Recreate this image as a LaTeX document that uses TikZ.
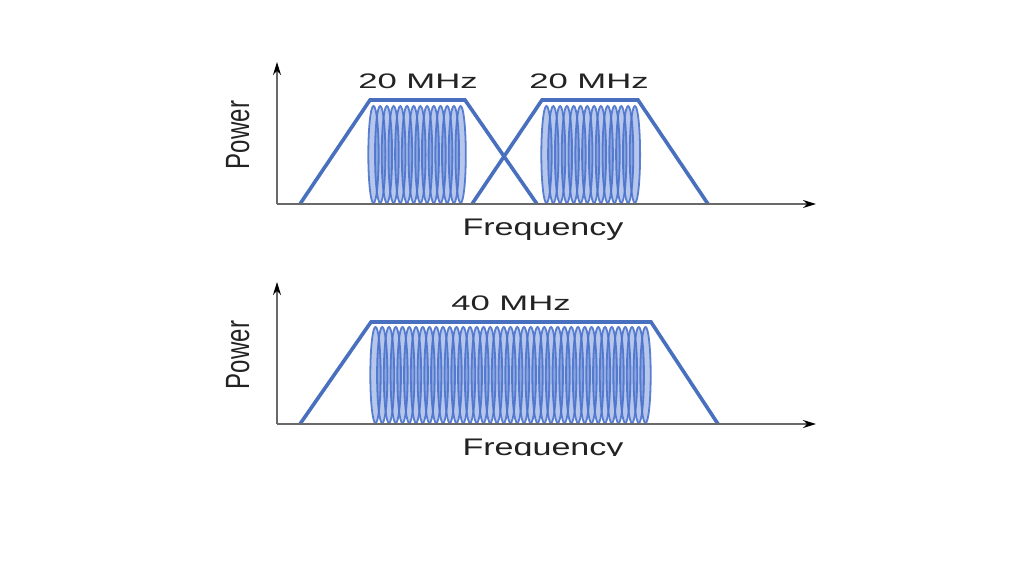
\documentclass[tikz,border=0pt]{standalone}
\usepackage{fontspec}
\setmainfont{Liberation Sans}
\usetikzlibrary{arrows.meta}
\definecolor{trap}{RGB}{72,112,190}
\definecolor{wave}{RGB}{75,115,205}
\definecolor{axisc}{RGB}{105,105,105}
\definecolor{txt}{RGB}{35,35,35}
\tikzset{
  axisline/.style={draw=axisc, line width=1.6pt, -{Stealth[length=13pt,width=8pt,color=black]}},
  trapline/.style={draw=trap, line width=3.6pt, line join=miter},
  lobe/.style={draw=wave, draw opacity=0.9, line width=1.8pt, fill=wave, fill opacity=0.4},
  mhz/.style={text=txt, font=\fontsize{21}{21}\selectfont, xscale=1.65, inner sep=0pt},
  axlab/.style={text=txt, font=\fontsize{24}{24}\selectfont, xscale=1.42, inner sep=0pt},
  powlab/.style={text=txt, font=\fontsize{24}{24}\selectfont, xscale=1.4, rotate=90, inner sep=0pt}
}
\begin{document}
\begin{tikzpicture}[x=1pt,y=-1pt]
\useasboundingbox[fill=white] (0,0) rectangle (1024,576);
% ---------- top panel ----------
\coordinate (o1) at (277,204);
\coordinate (y1) at (277,62);
\coordinate (x1) at (816,204);
% waves
\foreach \i in {0,...,13}{
  \path[lobe] ({373.5+\i*6.7},154.5) ellipse [x radius=5.2, y radius=48.5];
}
\foreach \i in {0,...,13}{
  \path[lobe] ({546.5+\i*6.8},154.5) ellipse [x radius=5.2, y radius=48.5];
}
\draw[trapline] (300,204) -- (370,100) -- (465,100) -- (537,204);
\draw[trapline] (472,204) -- (542,100) -- (638,100) -- (708,204);
\draw[axisline] (o1) -- (y1);
\draw[axisline] (o1) -- (x1);
\node[mhz, anchor=base] (l1) at (418,88) {20 MHz};
\node[mhz, anchor=base] (l2) at (589,88) {20 MHz};
\node[axlab, anchor=base] (f1) at (543,235) {Frequency};
\node[powlab, anchor=base] (p1) at (249,135) {Power};
% ---------- bottom panel ----------
\coordinate (o2) at (277,424);
\coordinate (y2) at (277,282);
\coordinate (x2) at (816,424);
\foreach \i in {0,...,40}{
  \path[lobe] ({375.5+\i*6.75},375) ellipse [x radius=5.2, y radius=48];
}
\draw[trapline] (300,424) -- (371,322) -- (651,322) -- (718,424);
\draw[axisline] (o2) -- (y2);
\draw[axisline] (o2) -- (x2);
\node[mhz, anchor=base] (l3) at (511,310) {40 MHz};
\begin{scope}
\clip (0,0) rectangle (1024,455);
\node[axlab, anchor=base] (f2) at (543,455) {Frequency};
\end{scope}
\node[powlab, anchor=base] (p2) at (249,355) {Power};
\end{tikzpicture}
\end{document}
